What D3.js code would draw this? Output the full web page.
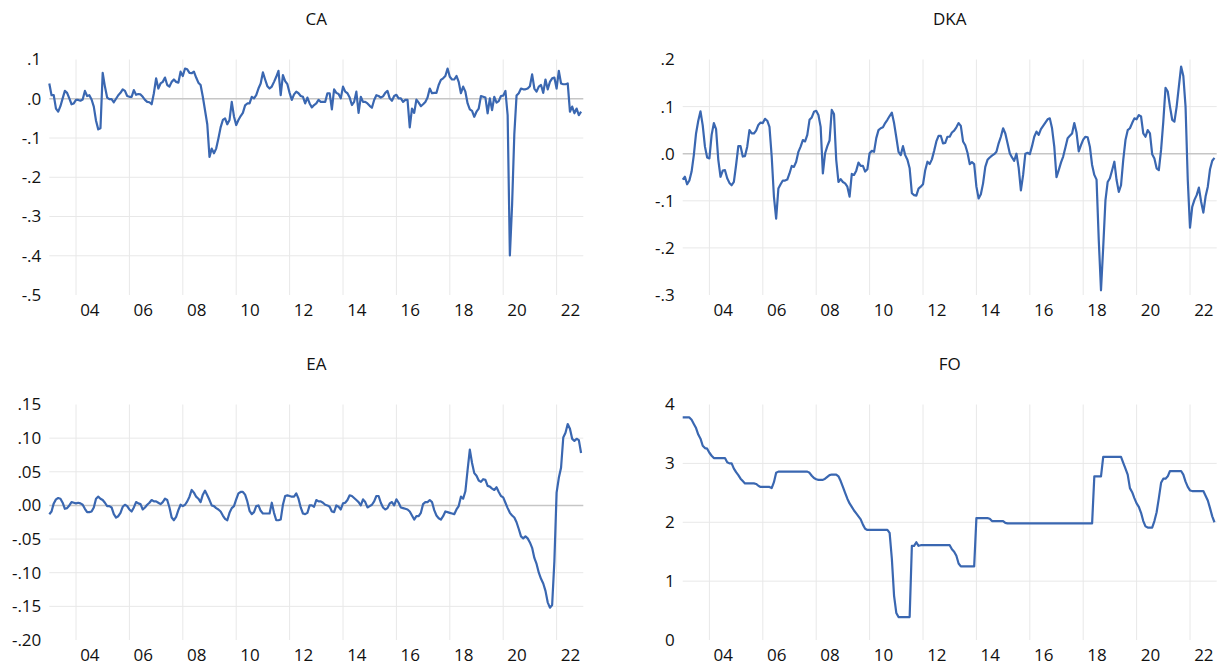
<!DOCTYPE html>
<html>
<head>
<meta charset="utf-8">
<script src="https://cdn.jsdelivr.net/npm/d3@7"></script>
<style>
  body { margin: 0; background: #fff; }
  text { font-family: "Open Sans", sans-serif; fill: #111; }
</style>
</head>
<body>
<svg id="chart" width="1219" height="668"></svg>
<script>
// monthly observations, 2003M01 .. 2022M12 (one row per year)
var startYear = 2003;

var ca = [
  .039,.009,.009,-.025,-.033,-.019,.001,.020,.015,.001,-.014,-.012,
  -.003,-.003,-.005,-.002,.020,.007,.009,-.002,-.020,-.056,-.078,-.075,
  .066,.031,.003,-.001,-.001,-.009,0,.009,.015,.024,.020,.007,
  .005,.005,.022,.010,.012,.011,.005,-.003,-.008,-.009,-.014,.014,
  .052,.026,.039,.043,.054,.035,.031,.043,.049,.043,.041,.069,
  .058,.077,.075,.066,.065,.069,.054,.041,.035,.005,-.030,-.065,
  -.148,-.127,-.139,-.127,-.101,-.073,-.054,-.050,-.065,-.054,-.008,-.045,
  -.067,-.054,-.044,-.036,-.017,-.012,-.012,.005,.001,.009,.026,.039,
  .067,.049,.032,.026,.031,.043,.056,.071,.009,.060,.045,.037,
  .015,-.003,.011,.018,.014,.007,.005,-.012,.003,-.012,-.022,-.016,
  -.012,-.003,-.008,-.008,-.008,.014,.014,-.027,.024,.015,.012,.001,
  .031,.018,.014,.003,-.016,-.008,.018,-.036,.005,-.008,-.008,-.012,
  -.018,-.023,-.003,.009,.007,.003,.006,.015,.020,.001,-.005,.007,
  .010,.001,.001,-.008,-.003,-.003,-.073,-.025,-.036,-.002,-.010,-.019,
  -.014,-.008,.003,.026,.014,.015,.015,.035,.048,.052,.058,.077,
  .056,.049,.049,.058,.043,.014,.031,.018,-.012,-.027,-.031,-.046,
  -.033,-.025,.007,.005,.003,-.037,.001,-.029,.005,-.010,-.006,.007,
  .008,.020,-.042,-.399,-.270,-.090,.008,.014,.026,.024,.024,.026,
  .032,.062,.026,.018,.031,.035,.015,.049,.024,.043,.052,.054,
  .026,.071,.039,.037,.037,.039,-.033,-.020,-.037,-.025,-.042,-.033
];

var dka = [
  -.055,-.049,-.065,-.057,-.038,-.003,.043,.070,.090,.060,.015,-.008,
  -.010,.040,.065,.052,-.013,-.049,-.036,-.035,-.052,-.062,-.067,-.060,
  -.024,.016,.016,-.006,-.005,.015,.050,.043,.043,.049,.061,.066,
  .065,.074,.070,.057,-.006,-.091,-.138,-.074,-.065,-.057,-.057,-.055,
  -.042,-.026,-.028,-.017,.004,.015,.029,.026,.040,.072,.077,.089,
  .091,.082,.057,-.042,.001,.016,.028,.093,.084,-.013,-.060,-.054,
  -.060,-.063,-.070,-.091,-.043,-.045,-.036,-.019,-.026,-.026,-.038,-.033,
  .001,.006,.004,.033,.050,.054,.056,.065,.072,.080,.087,.065,
  .035,.004,-.003,.016,-.003,-.013,-.031,-.084,-.088,-.089,-.074,-.070,
  -.065,-.035,-.017,-.022,-.012,.006,.026,.038,.038,.022,.023,.036,
  .036,.045,.049,.056,.065,.059,.026,.018,.002,-.022,-.018,-.022,
  -.070,-.095,-.086,-.063,-.028,-.013,-.008,-.004,-.001,.004,.022,.036,
  .054,.043,.022,.001,-.008,-.015,.000,-.030,-.078,-.045,.000,.002,
  -.001,.016,.036,.047,.040,.052,.059,.066,.073,.075,.054,.015,
  -.050,-.035,-.019,-.006,.013,.033,.038,.043,.065,.045,.005,.018,
  .030,.036,.035,.015,-.024,-.045,-.055,-.184,-.290,-.198,-.099,-.060,
  -.052,-.035,-.017,-.056,-.081,-.067,-.013,.029,.050,.054,.065,.075,
  .073,.082,.079,.043,.036,.050,.043,-.001,-.010,-.031,-.035,.008,
  .068,.140,.132,.100,.072,.068,.100,.143,.185,.165,.100,-.056,
  -.157,-.113,-.098,-.088,-.072,-.102,-.125,-.091,-.070,-.033,-.015,-.009
];

var ea = [
  -.013,-.009,.003,.009,.011,.010,.004,-.005,-.004,.000,.005,.004,
  .003,.004,.003,.001,-.005,-.010,-.010,-.009,-.003,.010,.013,.010,
  .008,.004,-.001,-.001,-.003,-.013,-.018,-.016,-.011,-.002,.001,-.001,
  -.006,-.009,-.003,.005,.003,.002,-.006,-.003,.001,.004,.008,.006,
  .006,.004,.002,.005,.010,.008,-.003,-.018,-.022,-.017,-.007,.001,
  -.001,.001,.006,.013,.023,.019,.013,.010,.005,.016,.022,.015,
  .008,.000,-.001,-.004,-.006,-.009,-.015,-.020,-.022,-.011,-.004,-.001,
  .009,.018,.020,.020,.016,.006,-.008,-.013,-.010,-.001,.000,-.008,
  -.012,-.012,-.012,-.012,.004,-.011,-.022,-.022,-.021,.001,.014,.015,
  .014,.013,.013,.018,.010,-.003,-.012,-.013,-.011,.000,.000,-.002,
  .008,.006,.006,.004,.001,.000,-.002,-.009,-.010,.000,-.002,-.006,
  .003,.004,.008,.015,.014,.011,.008,.005,.000,.009,.005,-.003,
  -.001,.001,.006,.014,.014,.004,-.003,-.006,-.004,.003,.005,.000,
  .009,.004,-.003,-.004,-.005,-.006,-.009,-.015,-.021,-.016,-.016,-.011,
  .002,.005,.005,.008,.005,-.007,-.015,-.019,-.021,-.016,-.009,-.010,
  -.011,-.012,-.013,-.006,-.001,.013,.010,.021,.053,.083,.063,.048,
  .044,.037,.035,.039,.038,.029,.028,.025,.023,.027,.020,.014,
  .012,.004,-.004,-.011,-.015,-.018,-.025,-.035,-.046,-.049,-.046,-.049,
  -.055,-.063,-.078,-.087,-.100,-.109,-.116,-.127,-.144,-.152,-.148,-.083,
  .019,.041,.056,.101,.108,.121,.114,.099,.096,.099,.097,.078
];

var fo = [
  3.78,3.78,3.78,3.78,3.74,3.67,3.60,3.49,3.42,3.30,3.26,3.25,
  3.18,3.13,3.09,3.09,3.09,3.09,3.09,3.09,3.02,3.00,3.00,2.91,
  2.85,2.80,2.74,2.70,2.66,2.66,2.66,2.66,2.66,2.65,2.62,2.60,
  2.60,2.60,2.60,2.60,2.58,2.68,2.84,2.86,2.86,2.86,2.86,2.86,
  2.86,2.86,2.86,2.86,2.86,2.86,2.86,2.86,2.86,2.84,2.79,2.75,
  2.73,2.72,2.72,2.72,2.74,2.77,2.80,2.81,2.81,2.81,2.78,2.70,
  2.60,2.50,2.40,2.32,2.26,2.20,2.15,2.10,2.05,1.96,1.89,1.87,
  1.87,1.87,1.87,1.87,1.87,1.87,1.87,1.87,1.87,1.82,1.38,0.75,
  0.46,0.39,0.39,0.39,0.39,0.39,0.39,1.60,1.60,1.66,1.60,1.61,
  1.61,1.61,1.61,1.61,1.61,1.61,1.61,1.61,1.61,1.61,1.61,1.61,
  1.61,1.54,1.50,1.43,1.30,1.25,1.25,1.25,1.25,1.25,1.25,1.25,
  2.07,2.07,2.07,2.07,2.07,2.07,2.06,2.02,2.02,2.02,2.02,2.02,
  2.02,1.99,1.98,1.98,1.98,1.98,1.98,1.98,1.98,1.98,1.98,1.98,
  1.98,1.98,1.98,1.98,1.98,1.98,1.98,1.98,1.98,1.98,1.98,1.98,
  1.98,1.98,1.98,1.98,1.98,1.98,1.98,1.98,1.98,1.98,1.98,1.98,
  1.98,1.98,1.98,1.98,1.98,2.78,2.78,2.78,2.78,3.11,3.11,3.11,
  3.11,3.11,3.11,3.11,3.11,3.11,3.01,2.91,2.81,2.58,2.51,2.41,
  2.32,2.26,2.16,2.02,1.93,1.91,1.91,1.91,2.02,2.17,2.41,2.67,
  2.74,2.74,2.78,2.87,2.87,2.87,2.87,2.87,2.87,2.81,2.69,2.60,
  2.54,2.53,2.53,2.53,2.53,2.53,2.53,2.45,2.37,2.24,2.10,2.00
];

var yearTicks = [2004, 2006, 2008, 2010, 2012, 2014, 2016, 2018, 2020, 2022];
var yearLabels = ["04", "06", "08", "10", "12", "14", "16", "18", "20", "22"];

var caTicks = [.1, 0, -.1, -.2, -.3, -.4, -.5];
var caLabels = [".1", ".0", "-.1", "-.2", "-.3", "-.4", "-.5"];
var dkaTicks = [.2, .1, 0, -.1, -.2, -.3];
var dkaLabels = [".2", ".1", ".0", "-.1", "-.2", "-.3"];
var eaTicks = [.15, .10, .05, 0, -.05, -.10, -.15, -.20];
var eaLabels = [".15", ".10", ".05", ".00", "-.05", "-.10", "-.15", "-.20"];
var foTicks = [4, 3, 2, 1, 0];
var foLabels = ["4", "3", "2", "1", "0"];

var plotW = 534;
var plotH = 235.5;
var lineColor = "#3a67b1";

var panels = [
  { title: "CA",  values: ca,  ticks: caTicks,  labels: caLabels,  left: 49.3,  top: 59.5 },
  { title: "DKA", values: dka, ticks: dkaTicks, labels: dkaLabels, left: 682.7, top: 59.5 },
  { title: "EA",  values: ea,  ticks: eaTicks,  labels: eaLabels,  left: 49.3,  top: 404.5 },
  { title: "FO",  values: fo,  ticks: foTicks,  labels: foLabels,  left: 682.7, top: 404.5 }
];

var svg = d3.select("#chart");

panels.forEach(function (p) {
  var g = svg.append("g");

  var x = d3.scaleLinear()
    .domain([startYear, startYear + 20])
    .range([p.left, p.left + plotW]);

  var y = d3.scaleLinear()
    .domain(d3.extent(p.ticks))
    .range([p.top + plotH, p.top]);

  // vertical grid at the start of every other year
  g.selectAll(".vgrid")
    .data(yearTicks)
    .enter()
    .append("line")
    .attr("x1", function (d) { return x(d); })
    .attr("x2", function (d) { return x(d); })
    .attr("y1", p.top)
    .attr("y2", p.top + plotH)
    .attr("stroke", "#e8e8e8")
    .attr("stroke-width", 1);

  // horizontal grid, skipping the two ends of the range
  var inner = p.ticks.filter(function (t) {
    return t < y.domain()[1] && t > y.domain()[0];
  });
  g.selectAll(".hgrid")
    .data(inner)
    .enter()
    .append("line")
    .attr("x1", p.left)
    .attr("x2", p.left + plotW)
    .attr("y1", function (d) { return y(d); })
    .attr("y2", function (d) { return y(d); })
    .attr("stroke", function (d) { return Math.abs(d) < 1e-9 ? "#c6c6c6" : "#e8e8e8"; })
    .attr("stroke-width", function (d) { return Math.abs(d) < 1e-9 ? 1.5 : 1; });

  // y axis labels
  var yAxis = d3.axisLeft(y)
    .tickValues(p.ticks)
    .tickSize(0)
    .tickPadding(8)
    .tickFormat(function (d, i) { return p.labels[i]; });
  var ya = g.append("g")
    .attr("transform", "translate(" + p.left + ",0)")
    .call(yAxis);
  ya.select(".domain").remove();
  ya.selectAll("text").attr("font-size", 17).attr("font-family", "Open Sans, sans-serif").attr("fill", "#111");

  // x axis labels, centred on the year
  var xAxis = d3.axisBottom(x)
    .tickValues(yearTicks.map(function (t) { return t + 0.5; }))
    .tickSize(0)
    .tickPadding(9)
    .tickFormat(function (d, i) { return yearLabels[i]; });
  var xa = g.append("g")
    .attr("transform", "translate(0," + (p.top + plotH) + ")")
    .call(xAxis);
  xa.select(".domain").remove();
  xa.selectAll("text").attr("font-size", 17).attr("font-family", "Open Sans, sans-serif").attr("fill", "#111");

  // title
  g.append("text")
    .attr("x", p.left + plotW / 2)
    .attr("y", p.top - 35)
    .attr("text-anchor", "middle")
    .attr("font-size", 17)
    .text(p.title);

  var line = d3.line()
    .x(function (d, i) { return x(startYear + i / 12); })
    .y(function (d) { return y(d); });

  g.append("path")
    .datum(p.values)
    .attr("d", line)
    .attr("fill", "none")
    .attr("stroke", lineColor)
    .attr("stroke-width", 2.2)
    .attr("stroke-linejoin", "round");
});
</script>
</body>
</html>
